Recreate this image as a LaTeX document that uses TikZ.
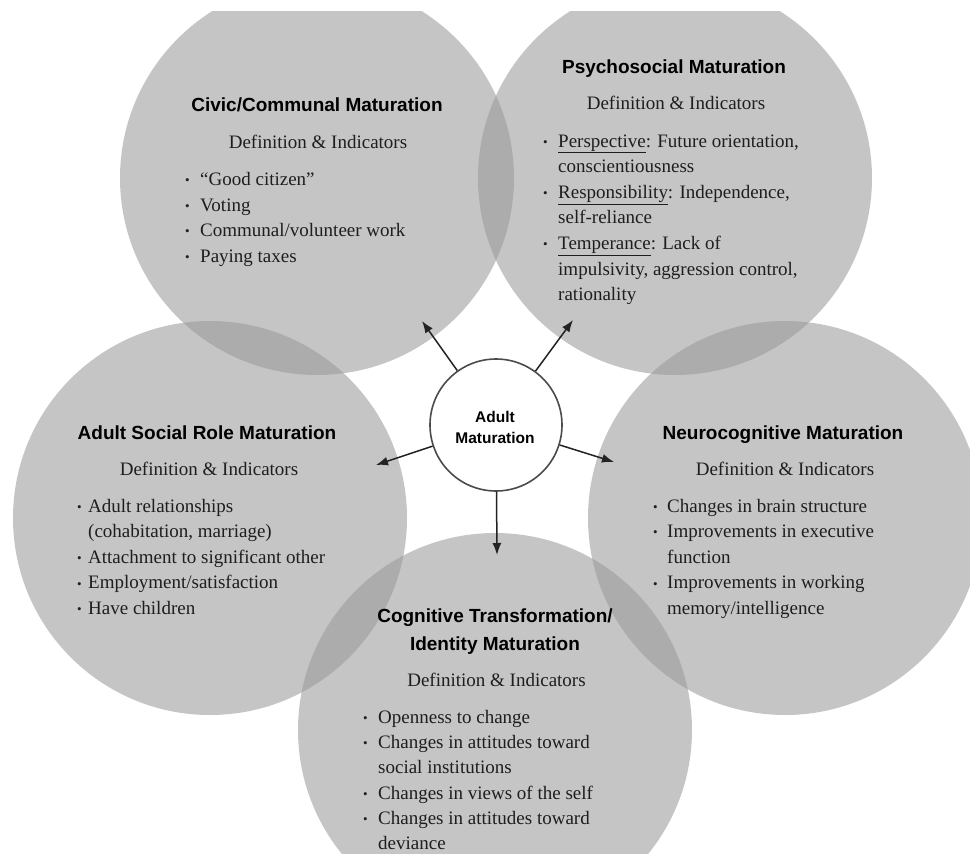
\documentclass[tikz,border=0pt]{standalone}
\usepackage{fontspec}
\setmainfont{Liberation Serif}
\newfontfamily\titlefont{Liberation Sans}
\usetikzlibrary{arrows.meta}
\definecolor{circfill}{RGB}{153,153,153}
\definecolor{ringcol}{RGB}{75,75,75}
\definecolor{arrcol}{RGB}{35,35,35}
\definecolor{txtcol}{RGB}{30,30,30}
\newcommand\bul[1]{\makebox[#1pt][l]{\raisebox{0.8pt}{\fontsize{13}{13}\selectfont\textbullet}}}
\tikzset{
  bigcirc/.style={circle, fill=circfill, fill opacity=0.56, minimum size=394pt, inner sep=0pt},
  hub/.style={circle, fill=white, draw=ringcol, line width=1.6pt, minimum size=132pt, inner sep=0pt},
  arr/.style={draw=arrcol, line width=1.5pt, -{Latex[length=12pt,width=9pt]}},
  ttl/.style={font=\titlefont\bfseries\fontsize{19}{22}\selectfont, anchor=base, inner sep=0pt, text=black},
  defn/.style={font=\fontsize{19}{22}\selectfont, anchor=base, inner sep=0pt, text=txtcol},
  body/.style={font=\fontsize{19}{22}\selectfont, anchor=base west, inner sep=0pt, text=txtcol},
  hubtxt/.style={font=\titlefont\bfseries\fontsize{15.5}{18}\selectfont, anchor=base, inner sep=0pt, text=black}
}
\begin{document}
\begin{tikzpicture}[x=1pt,y=-1pt]
\fill[white] (0,0) rectangle (970,854);
\useasboundingbox (0,0) rectangle (970,854);
\begin{scope}
\clip (0,11) rectangle (970,854);
\node[bigcirc] (civic) at (317,178) {};
\node[bigcirc] (psych) at (675,178) {};
\node[bigcirc] (adult) at (210,518) {};
\node[bigcirc] (neuro) at (785,518) {};
\node[bigcirc] (cog) at (495,730) {};
\end{scope}
% hub
\node[hub] (hub) at (496,425) {};
\node[hubtxt] (hubA) at (495,422) {Adult};
\node[hubtxt] (hubB) at (495,443) {Maturation};
% arrow tips
\coordinate (tcivic) at (422,321);
\coordinate (tpsych) at (573,320);
\coordinate (tadult) at (376,465);
\coordinate (tneuro) at (614,462);
\coordinate (tcog) at (497,555);
\draw[arr] (hub) -- (tcivic);
\draw[arr] (hub) -- (tpsych);
\draw[arr] (hub) -- (tadult);
\draw[arr] (hub) -- (tneuro);
\draw[arr] (hub) -- (tcog);
% Civic
\node[ttl] (civT) at (317,111) {Civic/Communal Maturation};
\node[defn] (civD) at (318,148) {Definition \& Indicators};
\node[body] (civ1) at (185,185) {\bul{15}“Good citizen”};
\node[body] (civ2) at (185,211) {\bul{15}Voting};
\node[body] (civ3) at (185,236.5) {\bul{15}Communal/volunteer work};
\node[body] (civ4) at (185,262) {\bul{15}Paying taxes};
% Psychosocial
\node[ttl] (psyT) at (674,73) {Psychosocial Maturation};
\node[defn] (psyD) at (676,109) {Definition \& Indicators};
\node[body] (psy1) at (543,147) {\bul{15}\underline{Perspective}: Future orientation,};
\node[body] (psy2) at (558,172.6) {conscientiousness};
\node[body] (psy3) at (543,198.2) {\bul{15}\underline{Responsibility}: Independence,};
\node[body] (psy4) at (558,223.8) {self-reliance};
\node[body] (psy5) at (543,249.4) {\bul{15}\underline{Temperance}: Lack of};
\node[body] (psy6) at (558,275) {impulsivity, aggression control,};
\node[body] (psy7) at (558,300.6) {rationality};
% Adult social role
\node[ttl] (adT) at (207,439) {Adult Social Role Maturation};
\node[defn] (adD) at (209,475) {Definition \& Indicators};
\node[body] (ad1) at (77,512) {\bul{11}Adult relationships};
\node[body] (ad2) at (88,537.6) {(cohabitation, marriage)};
\node[body] (ad3) at (77,563.2) {\bul{11}Attachment to significant other};
\node[body] (ad4) at (77,588.8) {\bul{11}Employment/satisfaction};
\node[body] (ad5) at (77,614.4) {\bul{11}Have children};
% Neurocognitive
\node[ttl] (neT) at (783,439) {Neurocognitive Maturation};
\node[defn] (neD) at (785,475) {Definition \& Indicators};
\node[body] (ne1) at (653,512) {\bul{14}Changes in brain structure};
\node[body] (ne2) at (653,537.6) {\bul{14}Improvements in executive};
\node[body] (ne3) at (667,563.2) {function};
\node[body] (ne4) at (653,588.8) {\bul{14}Improvements in working};
\node[body] (ne5) at (667,614.4) {memory/intelligence};
% Cognitive transformation
\node[ttl] (coT1) at (495,622) {Cognitive Transformation/};
\node[ttl] (coT2) at (495,650) {Identity Maturation};
\node[defn] (coD) at (496.5,686) {Definition \& Indicators};
\node[body] (co1) at (363,723) {\bul{15}Openness to change};
\node[body] (co2) at (363,748.4) {\bul{15}Changes in attitudes toward};
\node[body] (co3) at (378,773.8) {social institutions};
\node[body] (co4) at (363,799.2) {\bul{15}Changes in views of the self};
\node[body] (co5) at (363,824.6) {\bul{15}Changes in attitudes toward};
\node[body] (co6) at (378,849.5) {deviance};
\end{tikzpicture}
\end{document}
